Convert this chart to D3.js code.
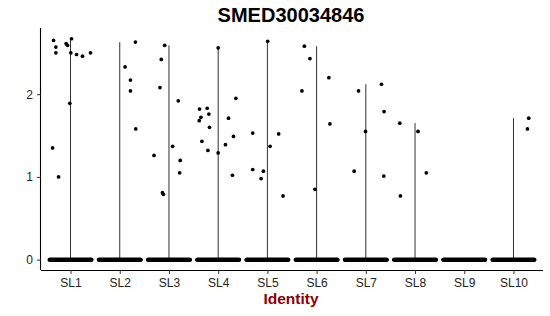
<!DOCTYPE html>
<html>
<head>
<meta charset="utf-8">
<script src="https://cdn.jsdelivr.net/npm/d3@7"></script>
<style>
  html, body { margin: 0; padding: 0; background: #fff; }
  svg { display: block; font-family: "Liberation Sans", Arial, Helvetica, sans-serif; }
</style>
</head>
<body>
<svg id="chart" width="550" height="316"></svg>
<script>
// ---- Data ----
const title = "SMED30034846";
const xTitle = "Identity";
const categories = ["SL1","SL2","SL3","SL4","SL5","SL6","SL7","SL8","SL9","SL10"];
const yTicks = [0, 1, 2];

// Non-zero expression values per cluster: [value, horizontal jitter (fraction of category step)]
const SL1 = [[2.65,-0.345],[2.57,-0.298],[2.50,-0.298],[2.61,-0.089],[2.59,-0.061],[2.67,0.02],[2.50,0.006],[2.48,0.122],[2.46,0.243],[2.50,0.406],[1.89,-0.014],[1.35,-0.365],[1.00,-0.243]];
const SL2 = [[2.63,0.318],[2.33,0.108],[2.17,0.217],[2.04,0.217],[1.58,0.325]];
const SL3 = [[2.59,-0.087],[2.42,-0.156],[2.08,-0.183],[1.92,0.189],[1.37,0.075],[1.26,-0.304],[1.20,0.229],[1.05,0.217],[0.81,-0.132],[0.79,-0.112]];
const SL4 = [[2.56,0],[1.95,0.359],[1.82,-0.379],[1.83,-0.223],[1.76,-0.189],[1.72,-0.351],[1.68,-0.385],[1.71,0.209],[1.60,-0.176],[1.49,0.310],[1.43,-0.331],[1.39,0.148],[1.32,-0.209],[1.29,0],[1.02,0.290]];
const SL5 = [[2.64,0.006],[1.53,-0.298],[1.52,0.229],[1.37,0.055],[1.09,-0.298],[1.07,-0.081],[0.98,-0.128],[0.77,0.318]];
const SL6 = [[2.58,-0.249],[2.43,-0.136],[2.20,0.249],[2.04,-0.298],[1.64,0.270],[0.85,-0.034]];
const SL7 = [[2.12,0.318],[2.04,-0.148],[1.79,0.371],[1.55,-0.006],[1.07,-0.237],[1.01,0.365]];
const SL8 = [[1.65,-0.310],[1.55,0.061],[1.05,0.229],[0.77,-0.298]];
const SL9 = [];
const SL10 = [[1.71,0.310],[1.58,0.284]];
const groupValues = [SL1,SL2,SL3,SL4,SL5,SL6,SL7,SL8,SL9,SL10];
// number of cells with zero expression drawn per cluster (estimated)
const zeroCounts = [160,160,160,160,160,160,160,160,160,160];

// ---- Layout ----
const svg = d3.select("#chart");
const W = 550, H = 316;
const plot = { left: 41, right: 543, top: 28, bottom: 270 };

svg.append("rect").attr("width", W).attr("height", H).attr("fill", "#fff");

const x = d3.scalePoint().domain(categories).range([plot.left, plot.right]).padding(0.6);
const step = x.step();
const y = d3.scaleLinear().domain([-0.125, 2.80]).range([plot.bottom, plot.top]);

const g = svg.append("g");

// Violins (extremely thin -> appear as lines from min to max)
categories.forEach((c, i) => {
  const vals = groupValues[i].map(d => d[0]);
  const maxV = vals.length ? d3.max(vals) : 0;
  if (maxV > 0) {
    g.append("line")
      .attr("x1", x(c)).attr("x2", x(c))
      .attr("y1", y(0)).attr("y2", y(maxV))
      .attr("stroke", "#1a1a1a").attr("stroke-width", 0.9);
  }
});

// Zero-valued jittered points
const r = 1.85;
categories.forEach((c, i) => {
  const n = zeroCounts[i];
  const zeros = d3.range(n);
  g.append("g").selectAll("circle").data(zeros).join("circle")
    .attr("cx", k => x(c) + (-0.43 + 0.86 * k / (n - 1)) * step)
    .attr("cy", y(0))
    .attr("r", r)
    .attr("fill", "#000");
});

// Non-zero jittered points
categories.forEach((c, i) => {
  g.append("g").selectAll("circle").data(groupValues[i]).join("circle")
    .attr("cx", d => x(c) + d[1] * step)
    .attr("cy", d => y(d[0]))
    .attr("r", r)
    .attr("fill", "#000");
});

// Axes
const xAxis = svg.append("g")
  .attr("transform", `translate(0,${plot.bottom})`)
  .call(d3.axisBottom(x).tickSize(4).tickSizeOuter(0).tickPadding(4));
xAxis.select(".domain").attr("d", `M${plot.left},0.5H${plot.right}`).attr("stroke", "#000").attr("stroke-width", 1.1);

const yAxis = svg.append("g")
  .attr("transform", `translate(${plot.left},0)`)
  .call(d3.axisLeft(y).tickValues(yTicks).tickFormat(d3.format("d")).tickSize(4).tickSizeOuter(0).tickPadding(4));
yAxis.select(".domain").attr("d", `M-0.5,${plot.top}V${plot.bottom}`).attr("stroke", "#000").attr("stroke-width", 1.1);

[xAxis, yAxis].forEach(a => {
  a.selectAll(".tick line").attr("stroke", "#333");
  a.selectAll(".tick text").attr("fill", "#222").style("font-size", "12px")
    .style("font-family", "'Liberation Sans', Arial, sans-serif");
});

// Title
svg.append("text")
  .attr("x", (plot.left + plot.right) / 2 - 1).attr("y", 22)
  .attr("text-anchor", "middle")
  .style("font-size", "20px").style("font-weight", "bold")
  .attr("fill", "#000")
  .text(title);

// X axis title
svg.append("text")
  .attr("x", (plot.left + plot.right) / 2 - 1).attr("y", 304)
  .attr("text-anchor", "middle")
  .style("font-size", "15.5px").style("font-weight", "bold")
  .attr("fill", "#8B0000")
  .text(xTitle);
</script>
</body>
</html>
